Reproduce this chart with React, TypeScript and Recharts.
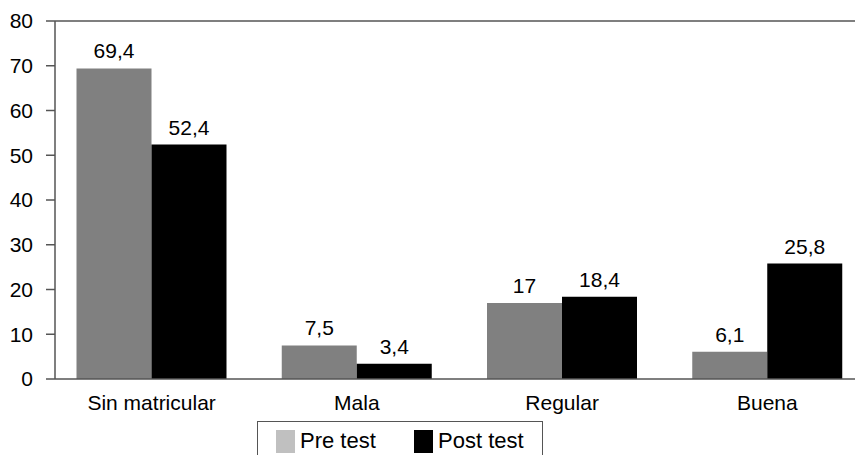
import { BarChart, Bar, XAxis, YAxis, ReferenceLine, LabelList } from "recharts";

const categories = ["Sin matricular", "Mala", "Regular", "Buena"];
const preTest = [69.4, 7.5, 17, 6.1];
const postTest = [52.4, 3.4, 18.4, 25.8];
const yTicks = [0, 10, 20, 30, 40, 50, 60, 70, 80];

const data = categories.map((name, i) => ({
  name,
  pre: preTest[i],
  post: postTest[i],
}));

const FONT = "'Liberation Sans', Arial, Helvetica, sans-serif";
const AXIS = "#555555";

// decimal comma like the source chart
const fmt = (v: unknown) => String(v).replace(".", ",");

function LegendBox() {
  const item = (left: number, color: string, text: string) => (
    <div style={{ position: "absolute", left, top: 6, display: "flex", alignItems: "center" }}>
      <span
        style={{
          display: "inline-block",
          width: 19,
          height: 23,
          background: color,
          marginRight: 5,
        }}
      />
      <span>{text}</span>
    </div>
  );
  return (
    <div
      style={{
        position: "absolute",
        left: 257,
        top: 421,
        width: 286,
        height: 44,
        boxSizing: "border-box",
        border: `1px solid ${AXIS}`,
        fontFamily: FONT,
        fontSize: 22,
        color: "#000",
      }}
    >
      {item(18, "#c0c0c0", "Pre test")}
      {item(156, "#000000", "Post test")}
    </div>
  );
}

export default function App() {
  return (
    <div
      style={{
        position: "absolute",
        left: 0,
        top: 0,
        width: 855,
        height: 455,
        overflow: "hidden",
        background: "#fff",
      }}
    >
      <BarChart
        width={880}
        height={460}
        data={data}
        margin={{ top: 21, right: 10, bottom: 41, left: 0 }}
        barCategoryGap={27.5}
        barGap={0}
        style={{ fontFamily: FONT }}
      >
        <ReferenceLine y={80} stroke={AXIS} strokeWidth={1.5} ifOverflow="visible" />
        <XAxis
          dataKey="name"
          height={40}
          padding={{ left: -6, right: 0 }}
          tickLine={false}
          tickSize={0}
          tickMargin={16}
          axisLine={{ stroke: AXIS, strokeWidth: 1.5 }}
          tick={{ fill: "#000", fontSize: 21 }}
          interval={0}
        />
        <YAxis
          width={55}
          domain={[0, 80]}
          ticks={yTicks}
          interval={0}
          tickSize={9}
          tickMargin={13}
          axisLine={{ stroke: AXIS, strokeWidth: 1.5 }}
          tickLine={{ stroke: AXIS, strokeWidth: 1.5 }}
          tick={{ fill: "#000", fontSize: 21 }}
        />
        <Bar dataKey="pre" fill="#808080" isAnimationActive={false}>
          <LabelList dataKey="pre" position="top" offset={10} formatter={fmt} fill="#000" fontSize={21} />
        </Bar>
        <Bar dataKey="post" fill="#000000" isAnimationActive={false}>
          <LabelList dataKey="post" position="top" offset={10} formatter={fmt} fill="#000" fontSize={21} />
        </Bar>
      </BarChart>
      <LegendBox />
    </div>
  );
}
